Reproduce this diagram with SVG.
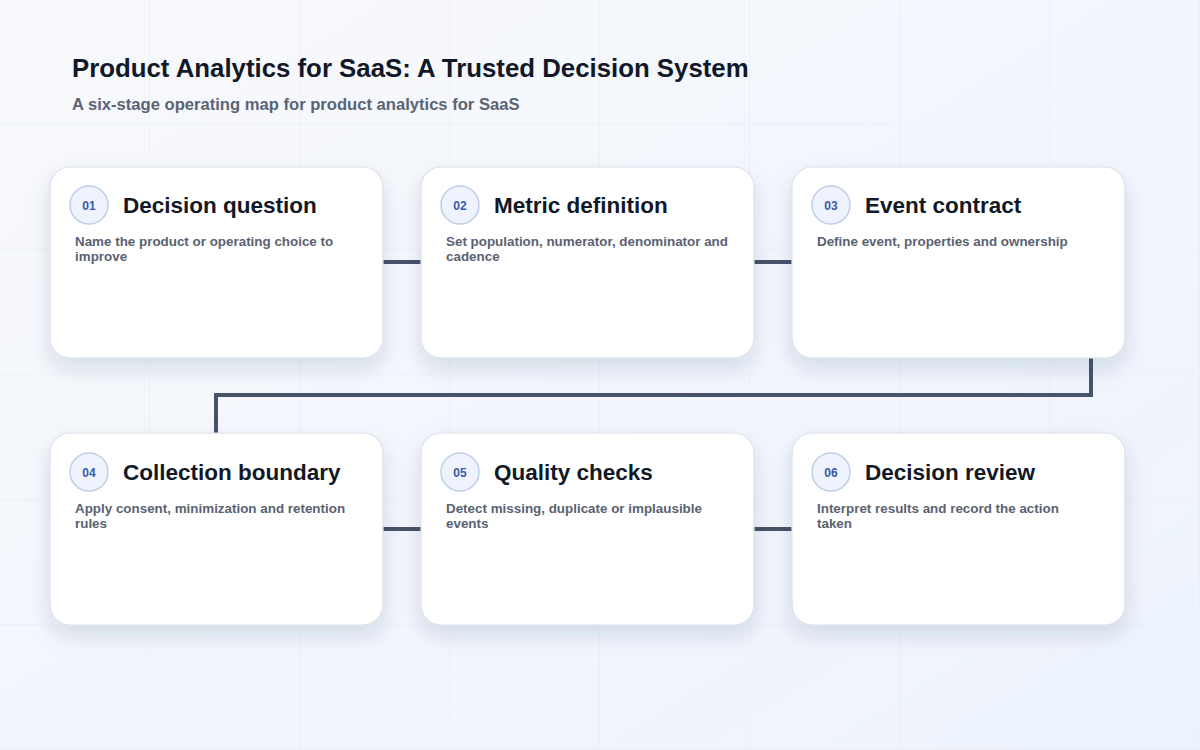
<svg xmlns="http://www.w3.org/2000/svg" width="1200" height="750" viewBox="0 0 1200 750">
<defs>
<linearGradient id="bg" x1="0" y1="0" x2="1" y2="1">
<stop offset="0" stop-color="#f8f9fc"/>
<stop offset="1" stop-color="#edf3fd"/>
</linearGradient>
<pattern id="grid" width="150" height="125" patternUnits="userSpaceOnUse">
<path d="M150 0V125M0 125H150" fill="none" stroke="#e4e9f1" stroke-width="1" opacity="0.8"/>
</pattern>
<filter id="sh" x="-20%" y="-20%" width="140%" height="150%">
<feDropShadow dx="0" dy="10" stdDeviation="10" flood-color="#1e3050" flood-opacity="0.13"/>
</filter>
</defs>
<style>
.card{fill:#ffffff;stroke:#d9e0ea;stroke-width:1.2}
.badge{fill:#eef3fd;stroke:#bfcde8;stroke-width:1.5}
.num{font-family:"Liberation Sans",Arial,sans-serif;font-size:12px;font-weight:700;fill:#3a5aa8;text-anchor:middle}
.ttl{font-family:"Liberation Sans",Arial,sans-serif;font-size:22.5px;font-weight:700;fill:#111827}
.desc{font-family:"Liberation Sans",Arial,sans-serif;font-size:13.4px;font-weight:700;fill:#5a6272}
.conn{fill:none;stroke:#475468;stroke-width:4}
</style>
<rect width="1200" height="750" fill="url(#bg)"/>
<rect width="1200" height="750" fill="url(#grid)"/>
<text x="72" y="77" font-family="Liberation Sans, Arial, sans-serif" font-size="25.8" font-weight="700" fill="#111827">Product Analytics for SaaS: A Trusted Decision System</text>
<text x="72" y="110" font-family="Liberation Sans, Arial, sans-serif" font-size="16.6" font-weight="700" fill="#5a6474">A six-stage operating map for product analytics for SaaS</text>
<g id="connectors">
<path class="conn" d="M383 262H421"/>
<path class="conn" d="M754 262H792"/>
<path class="conn" d="M1091 358V395H216V433"/>
<path class="conn" d="M383 529H421"/>
<path class="conn" d="M754 529H792"/>
</g>
<g id="node1">
<rect class="card" x="50" y="167" width="333" height="191" rx="20" filter="url(#sh)"/>
<circle class="badge" cx="89" cy="205" r="19"/>
<text class="num" x="89" y="210">01</text>
<text class="ttl" x="123" y="213">Decision question</text>
<text class="desc" x="75" y="246">Name the product or operating choice to</text>
<text class="desc" x="75" y="261">improve</text>
</g>
<g id="node2">
<rect class="card" x="421" y="167" width="333" height="191" rx="20" filter="url(#sh)"/>
<circle class="badge" cx="460" cy="205" r="19"/>
<text class="num" x="460" y="210">02</text>
<text class="ttl" x="494" y="213">Metric definition</text>
<text class="desc" x="446" y="246">Set population, numerator, denominator and</text>
<text class="desc" x="446" y="261">cadence</text>
</g>
<g id="node3">
<rect class="card" x="792" y="167" width="333" height="191" rx="20" filter="url(#sh)"/>
<circle class="badge" cx="831" cy="205" r="19"/>
<text class="num" x="831" y="210">03</text>
<text class="ttl" x="865" y="213">Event contract</text>
<text class="desc" x="817" y="246">Define event, properties and ownership</text>
</g>
<g id="node4">
<rect class="card" x="50" y="433" width="333" height="192" rx="20" filter="url(#sh)"/>
<circle class="badge" cx="89" cy="472" r="19"/>
<text class="num" x="89" y="477">04</text>
<text class="ttl" x="123" y="480">Collection boundary</text>
<text class="desc" x="75" y="513">Apply consent, minimization and retention</text>
<text class="desc" x="75" y="528">rules</text>
</g>
<g id="node5">
<rect class="card" x="421" y="433" width="333" height="192" rx="20" filter="url(#sh)"/>
<circle class="badge" cx="460" cy="472" r="19"/>
<text class="num" x="460" y="477">05</text>
<text class="ttl" x="494" y="480">Quality checks</text>
<text class="desc" x="446" y="513">Detect missing, duplicate or implausible</text>
<text class="desc" x="446" y="528">events</text>
</g>
<g id="node6">
<rect class="card" x="792" y="433" width="333" height="192" rx="20" filter="url(#sh)"/>
<circle class="badge" cx="831" cy="472" r="19"/>
<text class="num" x="831" y="477">06</text>
<text class="ttl" x="865" y="480">Decision review</text>
<text class="desc" x="817" y="513">Interpret results and record the action</text>
<text class="desc" x="817" y="528">taken</text>
</g>
</svg>
